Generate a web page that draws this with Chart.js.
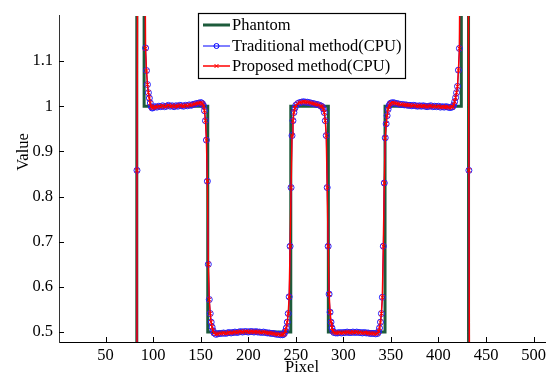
<!DOCTYPE html>
<html>
<head>
<meta charset="utf-8">
<script src="https://cdn.jsdelivr.net/npm/chart.js@4.4.0/dist/chart.umd.min.js"></script>
<style>
  html, body { margin: 0; padding: 0; background: #fff; }
  #wrap { width: 554px; height: 377px; }
</style>
</head>
<body>
<div id="wrap"><canvas id="profileChart" width="554" height="377"></canvas></div>
<script>
// tick labels
const xTicks = [50, 100, 150, 200, 250, 300, 350, 400, 450, 500];
const yTicks = [0.5, 0.6, 0.7, 0.8, 0.9, 1, 1.1];

// phantom profile (step function)
const phantomX = [1, 82.8, 82.8, 90.5, 90.5, 157.4, 157.4, 244.7, 244.7, 284.2, 284.2, 343.8, 343.8, 424, 424, 431.6, 431.6, 512];
const phantomY = [0, 0, 1.6, 1.6, 1, 1, 0.5, 0.5, 1, 1, 0.5, 0.5, 1, 1, 1.6, 1.6, 0, 0];

// sampled pixel positions along the profile
const pixelPos = [
  1, 40, 81, 82, 83, 84, 88, 91,
  92, 93, 94, 95, 96, 97, 98, 99,
  100, 102, 104, 106, 108, 110, 112, 114, 116, 118, 120, 122, 124, 126, 128, 130,
  132, 134, 136, 138, 140, 142, 144, 146, 148, 150, 151, 152, 153,
  154, 155, 156, 157, 158, 159, 160, 161, 162, 163, 164,
  166, 168, 170, 172, 174, 176, 178, 180, 182, 184, 186, 188, 190, 192, 194, 196,
  198, 200, 202, 204, 206, 208, 210, 212, 214, 216, 218, 220, 222, 224, 226, 228,
  230, 232, 234, 236, 237, 238, 239,
  240, 241, 242, 243, 244, 245, 246, 247, 248, 249,
  250, 252, 254, 256, 258, 260, 262, 264, 266, 268, 270, 272, 274, 276, 277, 278,
  279, 280, 281, 282, 283, 284,
  285, 286, 287, 288, 289, 290,
  292, 294, 296, 298, 300, 302, 304, 306, 308, 310, 312, 314, 316, 318, 320, 322,
  324, 326, 328, 330, 332, 334, 336, 337,
  338, 339, 340, 341, 342, 343, 344, 345, 346, 347, 348, 349,
  350, 352, 354, 356, 358, 360, 362, 364, 366, 368, 370, 372, 374, 376, 378, 380,
  382, 384, 386, 388, 390, 392, 394, 396, 398, 400, 402, 404, 406, 408, 410, 412,
  414, 415, 416,
  417, 418, 419, 420, 421, 422, 423, 424, 428, 431, 432, 433, 470, 512
];

// Traditional method(CPU)
const tradValues = [
  0, 0, 0, 0, 0.858, 1.6, 1.6, 1.45,
  1.129, 1.079, 1.048, 1.030, 1.018, 1.007, 0.999, 0.996,
  0.997, 0.999, 0.998, 1.000, 0.999, 1.001, 0.999, 1.000, 1.002, 1.000, 1.001, 0.999, 1.001, 1.000, 1.002, 1.001,
  1.000, 1.002, 1.001, 1.003, 1.002, 1.004, 1.005, 1.006, 1.007, 1.008, 1.007, 1.005, 1.001,
  0.990, 0.968, 0.925, 0.834, 0.650, 0.572, 0.541, 0.522, 0.511, 0.503, 0.498,
  0.495, 0.496, 0.497, 0.497, 0.498, 0.497, 0.498, 0.499, 0.498, 0.499, 0.500, 0.499, 0.500, 0.501, 0.500, 0.501,
  0.501, 0.500, 0.501, 0.501, 0.500, 0.501, 0.500, 0.500, 0.499, 0.500, 0.499, 0.498, 0.498, 0.497, 0.497, 0.496,
  0.495, 0.495, 0.494, 0.494, 0.495, 0.497, 0.502,
  0.509, 0.522, 0.541, 0.578, 0.690, 0.820, 0.935, 0.968, 0.986, 0.996,
  1.002, 1.006, 1.008, 1.009, 1.010, 1.009, 1.009, 1.008, 1.007, 1.006, 1.005, 1.004, 1.003, 1.001, 1.000, 0.998,
  0.994, 0.986, 0.968, 0.935, 0.820, 0.690,
  0.584, 0.544, 0.522, 0.509, 0.502, 0.499,
  0.498, 0.498, 0.499, 0.498, 0.499, 0.499, 0.500, 0.499, 0.499, 0.500, 0.499, 0.500, 0.499, 0.499, 0.498, 0.499,
  0.498, 0.498, 0.497, 0.497, 0.497, 0.496, 0.497, 0.501,
  0.509, 0.522, 0.541, 0.577, 0.690, 0.830, 0.930, 0.961, 0.979, 0.993, 1.001, 1.005,
  1.007, 1.008, 1.007, 1.006, 1.005, 1.004, 1.004, 1.003, 1.003, 1.002, 1.002, 1.001, 1.002, 1.001, 1.000, 1.001,
  1.000, 1.001, 1.000, 0.999, 1.000, 1.001, 0.999, 1.000, 0.999, 1.000, 0.998, 0.999, 0.998, 0.999, 0.998, 0.997,
  0.998, 0.999, 1.003,
  1.010, 1.019, 1.030, 1.044, 1.080, 1.128, 1.45, 1.6, 1.6, 1.6, 0.858, 0, 0, 0
];

// Proposed method(CPU)
const propValues = [
  0, 0, 0, 0, 0.858, 1.6, 1.6, 1.45,
  1.128, 1.078, 1.048, 1.030, 1.018, 1.007, 0.999, 0.996,
  0.997, 0.999, 0.998, 1.000, 0.999, 1.001, 0.999, 1.000, 1.002, 1.000, 1.001, 0.999, 1.001, 1.000, 1.002, 1.001,
  1.000, 1.002, 1.001, 1.003, 1.002, 1.004, 1.005, 1.006, 1.007, 1.008, 1.007, 1.005, 1.001,
  0.990, 0.968, 0.925, 0.834, 0.650, 0.572, 0.541, 0.522, 0.511, 0.503, 0.498,
  0.495, 0.496, 0.497, 0.497, 0.498, 0.497, 0.498, 0.499, 0.498, 0.499, 0.500, 0.499, 0.500, 0.501, 0.500, 0.501,
  0.501, 0.500, 0.501, 0.501, 0.500, 0.501, 0.500, 0.500, 0.499, 0.500, 0.499, 0.498, 0.498, 0.497, 0.497, 0.496,
  0.495, 0.495, 0.494, 0.494, 0.495, 0.497, 0.502,
  0.509, 0.522, 0.541, 0.578, 0.690, 0.820, 0.935, 0.968, 0.986, 0.996,
  1.002, 1.006, 1.008, 1.009, 1.010, 1.009, 1.009, 1.008, 1.007, 1.006, 1.005, 1.004, 1.003, 1.001, 1.000, 0.998,
  0.994, 0.986, 0.968, 0.935, 0.820, 0.690,
  0.584, 0.544, 0.522, 0.509, 0.502, 0.499,
  0.498, 0.498, 0.499, 0.498, 0.499, 0.499, 0.500, 0.499, 0.499, 0.500, 0.499, 0.500, 0.499, 0.499, 0.498, 0.499,
  0.498, 0.498, 0.497, 0.497, 0.497, 0.496, 0.497, 0.501,
  0.509, 0.522, 0.541, 0.577, 0.690, 0.830, 0.930, 0.961, 0.979, 0.993, 1.001, 1.005,
  1.007, 1.008, 1.007, 1.006, 1.005, 1.004, 1.004, 1.003, 1.003, 1.002, 1.002, 1.001, 1.002, 1.001, 1.000, 1.001,
  1.000, 1.001, 1.000, 0.999, 1.000, 1.001, 0.999, 1.000, 0.999, 1.000, 0.998, 0.999, 0.998, 0.999, 0.998, 0.997,
  0.998, 0.999, 1.003,
  1.010, 1.019, 1.030, 1.044, 1.080, 1.128, 1.45, 1.6, 1.6, 1.6, 0.858, 0, 0, 0
];

const serif = '"Liberation Serif", "Times New Roman", serif';
const green = '#1d5b3b';

// ticks pointing inwards, axis titles and the boxed legend
const extras = {
  id: 'extras',
  afterDatasetsDraw(chart) {
    const { ctx, chartArea: a, scales: { x, y } } = chart;
    ctx.save();
    ctx.strokeStyle = '#000';
    ctx.lineWidth = 1;
    ctx.beginPath();
    xTicks.forEach(v => {
      const px = Math.round(x.getPixelForValue(v)) + 0.5;
      ctx.moveTo(px, a.bottom);
      ctx.lineTo(px, a.bottom - 5);
    });
    yTicks.forEach(v => {
      const py = Math.round(y.getPixelForValue(v)) + 0.5;
      ctx.moveTo(a.left, py);
      ctx.lineTo(a.left + 5, py);
    });
    ctx.stroke();

    // axis titles
    ctx.fillStyle = '#000';
    ctx.font = '16.5px ' + serif;
    ctx.textAlign = 'center';
    ctx.textBaseline = 'middle';
    ctx.fillText('Pixel', (a.left + a.right) / 2, 368);
    ctx.save();
    ctx.translate(24, 152);
    ctx.rotate(-Math.PI / 2);
    ctx.fillText('Value', 0, 0);
    ctx.restore();

    // legend
    const lx = 198, ly = 13, lw = 207, lh = 65;
    ctx.fillStyle = '#fff';
    ctx.fillRect(lx, ly, lw, lh);
    ctx.lineWidth = 1.2;
    ctx.strokeStyle = '#000';
    ctx.strokeRect(lx + 0.5, ly + 0.5, lw, lh);
    const rows = [25, 46, 66];
    chart.data.datasets.forEach((ds, i) => {
      const ry = rows[i];
      ctx.strokeStyle = ds.borderColor;
      ctx.lineWidth = ds.borderWidth;
      ctx.beginPath();
      ctx.moveTo(203, ry);
      ctx.lineTo(230, ry);
      ctx.stroke();
      if (ds.pointStyle === 'circle') {
        ctx.lineWidth = 1;
        ctx.beginPath();
        ctx.arc(216.5, ry, 2.5, 0, Math.PI * 2);
        ctx.stroke();
      } else if (ds.pointStyle === 'crossRot') {
        ctx.lineWidth = 1;
        ctx.beginPath();
        ctx.moveTo(214.5, ry - 2); ctx.lineTo(218.5, ry + 2);
        ctx.moveTo(218.5, ry - 2); ctx.lineTo(214.5, ry + 2);
        ctx.stroke();
      }
      ctx.fillStyle = '#000';
      ctx.textAlign = 'left';
      ctx.fillText(ds.label, 232, ry + 1);
    });
    ctx.restore();
  }
};

const ctx = document.getElementById('profileChart').getContext('2d');
new Chart(ctx, {
  type: 'line',
  data: {
    datasets: [
      {
        label: 'Phantom',
        data: phantomX.map((v, i) => ({ x: v, y: phantomY[i] })),
        borderColor: green,
        borderWidth: 3,
        pointRadius: 0,
        borderJoinStyle: 'miter',
        tension: 0,
        clip: 0,
        order: 3
      },
      {
        label: 'Traditional method(CPU)',
        data: pixelPos.map((v, i) => ({ x: v, y: tradValues[i] })),
        borderColor: '#0000ff',
        borderWidth: 1,
        pointStyle: 'circle',
        pointRadius: 3,
        pointBorderWidth: 1,
        pointBorderColor: '#2020ff',
        pointBackgroundColor: 'rgba(0,0,0,0)',
        tension: 0,
        clip: 0,
        order: 2
      },
      {
        label: 'Proposed method(CPU)',
        data: pixelPos.map((v, i) => ({ x: v, y: propValues[i] })),
        borderColor: '#ff0000',
        borderWidth: 1.5,
        pointStyle: 'crossRot',
        pointRadius: 3,
        pointBorderWidth: 1,
        pointBorderColor: '#ff0000',
        tension: 0,
        clip: 0,
        order: 1
      }
    ]
  },
  options: {
    responsive: false,
    animation: false,
    devicePixelRatio: 1,
    layout: { padding: { left: 0, right: 9, top: 9, bottom: 0 } },
    plugins: {
      legend: { display: false },
      tooltip: { enabled: false }
    },
    scales: {
      x: {
        type: 'linear',
        min: 1,
        max: 512,
        afterBuildTicks: s => { s.ticks = xTicks.map(v => ({ value: v })); },
        afterFit: s => { s.height = 35; },
        grid: { display: false, drawTicks: false },
        border: { display: true, color: '#000', width: 1 },
        ticks: {
          color: '#000',
          padding: 4,
          maxRotation: 0,
          autoSkip: false,
          font: { family: serif, size: 16.5 }
        }
      },
      y: {
        type: 'linear',
        min: 0.478,
        max: 1.2,
        afterBuildTicks: s => { s.ticks = yTicks.map(v => ({ value: v })); },
        afterFit: s => { s.width = 59; },
        grid: { display: false, drawTicks: false },
        border: { display: true, color: '#333', width: 1 },
        ticks: {
          color: '#000',
          padding: 6,
          autoSkip: false,
          font: { family: serif, size: 16.5 },
          callback: v => String(Math.round(v * 10) / 10)
        }
      }
    }
  },
  plugins: [extras]
});
</script>
</body>
</html>
